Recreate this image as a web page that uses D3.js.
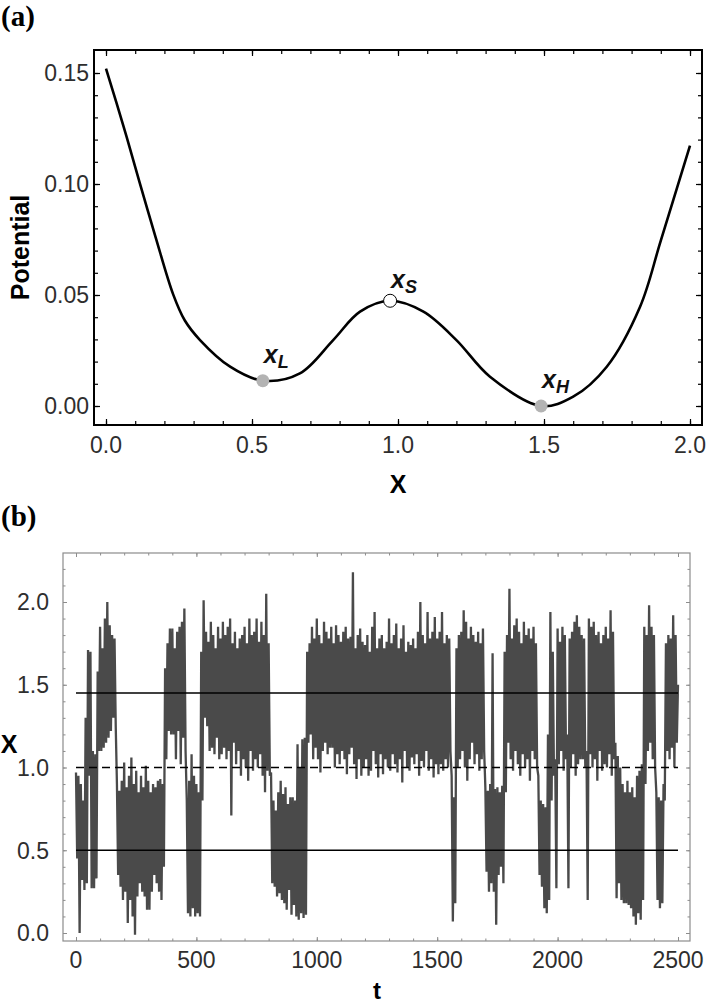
<!DOCTYPE html>
<html>
<head>
<meta charset="utf-8">
<script src="https://cdn.jsdelivr.net/npm/d3@7"></script>
<style>
  body { margin: 0; background: #fff; }
  svg { display: block; }
  text { font-family: "Liberation Sans", Arial, sans-serif; }
</style>
</head>
<body>
<div id="chart"></div>
<script>
// ---------- data ----------

// panel (a): potential curve, sampled by eye
var potX = [0, 0.06, 0.116, 0.17, 0.23, 0.27, 0.322, 0.425, 0.537, 0.664, 0.778, 0.87, 0.973, 1.087, 1.20, 1.315, 1.49, 1.60, 1.715, 1.829, 1.90, 2.0];
var potV = [0.152, 0.126, 0.1003, 0.076, 0.0503, 0.0385, 0.0297, 0.0177, 0.0114, 0.0147, 0.0297, 0.0425, 0.0474, 0.0425, 0.0297, 0.0132, 0.0, 0.0042, 0.0177, 0.0447, 0.0745, 0.1173];

// fixed points of the potential
var pointName = ["L", "S", "H"];
var pointKind = ["stable", "saddle", "stable"];
var pointX = [0.537, 0.973, 1.49];
var pointV = [0.0114, 0.0474, 0.0];

var potXTicks = [0, 0.5, 1.0, 1.5, 2.0];
var potVTicks = [0, 0.05, 0.10, 0.15];

// panel (b): trajectory, max and min of X inside each 10-unit time window
var tStep = 10;
var xHigh = [
  0.97, 0.95, 0.90, 0.80, 1.30, 1.71, 1.70, 1.10, 1.08, 1.58,
  1.85, 1.72, 1.90, 2.00, 1.86, 1.80, 1.78, 0.90, 0.86, 0.92,
  1.03, 0.88, 0.95, 1.06, 0.90, 0.98, 0.85, 0.95, 0.88, 1.01,
  0.92, 0.85, 0.90, 0.88, 0.92, 0.93, 0.90, 1.60, 1.75, 1.84,
  1.84, 1.72, 1.82, 1.85, 1.88, 1.96, 0.80, 0.92, 1.08, 0.95,
  0.90, 0.85, 1.70, 2.01, 1.82, 1.76, 1.88, 1.80, 1.72, 1.85,
  1.78, 1.88, 1.80, 1.85, 1.90, 1.75, 1.82, 1.72, 1.78, 1.80,
  1.85, 1.75, 1.90, 1.80, 1.82, 1.90, 1.76, 1.88, 1.80, 2.05,
  1.75, 0.97, 0.80, 0.74, 0.85, 0.92, 0.84, 0.88, 0.78, 0.82,
  0.82, 0.80, 1.14, 1.00, 1.17, 1.18, 1.70, 1.75, 1.85, 1.78,
  1.90, 1.80, 1.75, 1.88, 1.82, 1.78, 1.85, 1.75, 1.86, 1.80,
  1.76, 1.82, 1.85, 1.78, 1.79, 2.18, 1.72, 1.80, 1.84, 1.76,
  1.74, 1.80, 1.70, 1.85, 1.94, 1.72, 1.78, 1.80, 1.72, 1.76,
  1.90, 1.75, 1.80, 1.87, 1.72, 1.78, 1.86, 1.70, 1.76, 1.74,
  1.78, 1.72, 1.82, 2.00, 1.80, 1.75, 1.94, 1.78, 1.82, 1.91,
  1.78, 1.82, 1.94, 1.75, 1.80, 1.78, 0.95, 0.82, 1.72, 1.80,
  1.82, 1.95, 1.88, 1.78, 1.85, 1.80, 1.76, 1.82, 1.75, 1.84,
  0.88, 0.86, 0.90, 1.69, 0.87, 0.88, 0.85, 0.89, 1.70, 1.80,
  2.08, 1.78, 1.86, 1.90, 1.82, 1.75, 1.88, 1.80, 1.84, 1.78,
  1.85, 1.75, 0.95, 0.80, 0.78, 0.76, 1.20, 1.94, 1.70, 1.05,
  1.84, 1.76, 1.85, 1.80, 1.20, 1.78, 1.82, 1.88, 1.92, 1.85,
  1.80, 1.78, 1.10, 1.90, 1.85, 1.88, 1.80, 1.82, 1.75, 1.80,
  1.85, 1.78, 1.95, 1.82, 1.15, 1.07, 1.00, 0.90, 0.85, 0.92,
  0.85, 0.88, 0.82, 0.95, 0.98, 1.02, 1.85, 1.80, 1.98, 1.85,
  1.80, 0.85, 0.82, 0.80, 0.90, 1.75, 1.80, 1.78, 1.92, 1.80
];
var xLow = [
  0.45, 0.00, 0.32, 0.26, 0.30, 0.95, 0.27, 0.27, 0.33, 1.10,
  1.10, 1.12, 1.15, 1.18, 1.22, 1.30, 1.25, 0.35, 0.28, 0.20,
  0.25, 0.06, 0.20, 0.10, -0.01, 0.22, 0.30, 0.25, 0.22, 0.14,
  0.14, 0.25, 0.35, 0.30, 0.25, 0.20, 0.40, 1.05, 1.22, 1.20,
  1.20, 1.05, 1.22, 1.02, 1.18, 1.10, 0.12, 0.10, 0.15, 0.10,
  0.12, 0.10, 0.80, 1.30, 1.25, 1.10, 1.12, 1.08, 1.18, 1.05,
  1.08, 1.12, 1.05, 1.10, 0.71, 1.15, 1.02, 1.10, 0.95, 1.05,
  1.00, 0.92, 1.10, 0.98, 1.05, 1.00, 1.08, 0.95, 0.85, 0.98,
  0.95, 0.30, 0.28, 0.22, 0.24, 0.20, 0.18, 0.14, 0.26, 0.11,
  0.17, 0.10, 0.08, 0.12, 0.09, 0.11, 1.15, 1.20, 1.05, 1.12,
  1.05, 0.97, 1.10, 1.15, 1.08, 1.12, 1.12, 1.00, 1.08, 1.02,
  1.10, 1.05, 0.96, 1.08, 1.12, 1.02, 0.93, 1.05, 0.95, 1.00,
  1.05, 0.95, 0.98, 1.10, 1.02, 0.94, 1.08, 0.96, 1.05, 1.00,
  0.98, 1.08, 1.02, 0.97, 1.05, 0.91, 1.10, 1.00, 0.98, 1.06,
  1.02, 1.08, 0.95, 1.04, 1.00, 1.10, 0.98, 1.05, 0.94, 1.02,
  0.96, 1.02, 0.98, 1.05, 1.00, 1.10, 0.07, 0.18, 1.00, 1.05,
  1.10, 1.00, 0.92, 1.05, 1.15, 1.02, 1.08, 0.98, 1.05, 1.10,
  0.37, 0.25, 0.30, 0.25, 0.05, 0.35, 0.40, 0.30, 0.85, 1.15,
  1.05, 0.98, 1.10, 1.02, 0.95, 1.08, 1.00, 1.05, 0.92, 1.10,
  1.05, 1.00, 0.35, 0.28, 0.15, 0.12, 0.20, 0.80, 0.95, 0.27,
  1.02, 1.10, 0.98, 1.05, 0.27, 1.00, 1.08, 0.95, 1.02, 1.05,
  1.05, 1.00, 0.20, 1.08, 1.00, 1.05, 0.92, 1.10, 0.98, 1.02,
  1.00, 1.08, 0.95, 1.05, 0.21, 0.30, 0.20, 0.18, 0.18, 0.17,
  0.15, 0.10, 0.05, 0.12, 0.08, 0.20, 0.90, 1.10, 1.15, 1.05,
  1.00, 0.20, 0.15, 0.18, 0.80, 1.10, 1.05, 1.12, 1.00, 1.15
];

// reference levels drawn across panel (b)
var levelValue = [1.45, 1.0, 0.5];
var levelDashed = [false, true, false];

var tTicks = [0, 500, 1000, 1500, 2000, 2500];
var xTicks = [0, 0.5, 1.0, 1.5, 2.0];

// ---------- drawing ----------
var width = 709,
    height = 1006;

var svg = d3.select("#chart")
  .append("svg")
  .attr("width", width)
  .attr("height", height);

// helper: ticks on all four sides pointing inward, labels only bottom/left
function frameTicks(g, x, y, box, opt) {
  var sides = [
    {axis: d3.axisBottom(x), tr: "translate(0," + box.bottom + ")", vals: opt.xMajor, minor: opt.xMinor},
    {axis: d3.axisTop(x), tr: "translate(0," + box.top + ")", vals: opt.xMajor, minor: opt.xMinor},
    {axis: d3.axisLeft(y), tr: "translate(" + box.left + ",0)", vals: opt.yMajor, minor: opt.yMinor},
    {axis: d3.axisRight(y), tr: "translate(" + box.right + ",0)", vals: opt.yMajor, minor: opt.yMinor}
  ];
  sides.forEach(function(s) {
    var gm = g.append("g")
      .attr("transform", s.tr)
      .call(s.axis.tickValues(s.minor).tickSize(-opt.minorLen).tickFormat(""));
    gm.select(".domain").remove();
    gm.selectAll("line").attr("stroke", opt.tickColor).attr("stroke-width", opt.tickWidth);
  });
  sides.forEach(function(s) {
    var ax = s.axis.tickValues(s.vals).tickSize(-opt.majorLen).tickFormat("");
    var gM = g.append("g").attr("transform", s.tr).call(ax);
    gM.select(".domain").remove();
    gM.selectAll("line").attr("stroke", opt.tickColor).attr("stroke-width", opt.tickWidth);
  });

  // tick labels on bottom and left
  g.append("g").selectAll("text")
    .data(opt.xMajor)
    .enter().append("text")
    .attr("x", function(d) { return x(d); })
    .attr("y", box.bottom + opt.xLabelGap)
    .attr("text-anchor", "middle")
    .attr("font-size", opt.fontSize)
    .attr("fill", "#2e2e2e")
    .text(opt.xFormat);

  g.append("g").selectAll("text")
    .data(opt.yMajor)
    .enter().append("text")
    .attr("x", box.left - opt.yLabelGap)
    .attr("y", function(d) { return y(d); })
    .attr("dy", "0.36em")
    .attr("text-anchor", "end")
    .attr("font-size", opt.fontSize)
    .attr("fill", "#2e2e2e")
    .text(opt.yFormat);

  g.append("rect")
    .attr("x", box.left)
    .attr("y", box.top)
    .attr("width", box.right - box.left)
    .attr("height", box.bottom - box.top)
    .attr("fill", "none")
    .attr("stroke", opt.frameColor)
    .attr("stroke-width", opt.frameWidth);
}

// ---------- panel (a) ----------
var boxA = {left: 94, right: 702, top: 50, bottom: 425};
var xA = d3.scaleLinear().domain([0, 2]).range([106, 690]);
var yA = d3.scaleLinear().domain([0, 0.15]).range([406, 73]);

var gA = svg.append("g");

frameTicks(gA, xA, yA, boxA, {
  xMajor: potXTicks,
  xMinor: d3.range(0, 2.001, 0.1),
  yMajor: potVTicks,
  yMinor: d3.range(0, 0.1501, 0.01),
  majorLen: 6, minorLen: 4,
  tickColor: "#000", tickWidth: 1.2,
  frameColor: "#000", frameWidth: 2,
  fontSize: 23,
  xLabelGap: 28, yLabelGap: 5,
  xFormat: d3.format(".1f"),
  yFormat: d3.format(".2f")
});

var potData = potX.map(function(d, i) { return [d, potV[i]]; });

gA.append("path")
  .datum(potData)
  .attr("fill", "none")
  .attr("stroke", "#000")
  .attr("stroke-width", 2.6)
  .attr("d", d3.line()
    .x(function(d) { return xA(d[0]); })
    .y(function(d) { return yA(d[1]); })
    .curve(d3.curveCatmullRom.alpha(0.5)));

// fixed points
var pts = pointX.map(function(d, i) {
  return {x: d, v: pointV[i], name: pointName[i], kind: pointKind[i]};
});

gA.selectAll(".fixed")
  .data(pts)
  .enter().append("circle")
  .attr("class", "fixed")
  .attr("cx", function(d) { return xA(d.x); })
  .attr("cy", function(d) { return yA(d.v); })
  .attr("r", 6.5)
  .attr("fill", function(d) { return d.kind == "saddle" ? "#fff" : "#b3b3b3"; })
  .attr("stroke", function(d) { return d.kind == "saddle" ? "#000" : "none"; })
  .attr("stroke-width", 1);

var lab = gA.selectAll(".fixed-label")
  .data(pts)
  .enter().append("text")
  .attr("class", "fixed-label")
  .attr("x", function(d) { return xA(d.x) + 1; })
  .attr("y", function(d) { return yA(d.v) - (d.kind == "saddle" ? 13 : 18); })
  .attr("font-size", 25)
  .attr("font-weight", "bold")
  .attr("font-style", "italic")
  .attr("fill", "#111");
lab.append("tspan").text("x");
lab.append("tspan")
  .attr("font-size", 18)
  .attr("dy", 5)
  .text(function(d) { return d.name; });

// axis titles
gA.append("text")
  .attr("transform", "translate(29," + ((boxA.top + boxA.bottom) / 2 + 10) + ") rotate(-90)")
  .attr("text-anchor", "middle")
  .attr("font-size", 25)
  .attr("font-weight", "bold")
  .text("Potential");

gA.append("text")
  .attr("x", xA(1))
  .attr("y", 493)
  .attr("text-anchor", "middle")
  .attr("font-size", 25)
  .attr("font-weight", "bold")
  .text("X");

svg.append("text")
  .attr("x", 1)
  .attr("y", 26)
  .attr("font-size", 29)
  .attr("font-weight", "bold")
  .style("font-family", "'Liberation Serif', serif")
  .text("(a)");

// ---------- panel (b) ----------
var boxB = {left: 63, right: 690, top: 553, bottom: 941};
var xB = d3.scaleLinear().domain([0, 2500]).range([76, 678]);
var yB = d3.scaleLinear().domain([0, 2]).range([933, 602]);

var gB = svg.append("g");

// trajectory: zig-zag between window max and min
var traj = [];
xHigh.forEach(function(h, i) {
  traj.push([i * tStep, h]);
  traj.push([i * tStep + tStep / 2, xLow[i]]);
});
traj.push([xHigh.length * tStep, 1.5]);

gB.append("path")
  .datum(traj)
  .attr("fill", "none")
  .attr("stroke", "#4a4a4a")
  .attr("stroke-width", 2.3)
  .attr("stroke-linejoin", "bevel")
  .attr("d", d3.line()
    .x(function(d) { return xB(d[0]); })
    .y(function(d) { return yB(d[1]); }));

// reference levels
gB.selectAll(".level")
  .data(levelValue)
  .enter().append("line")
  .attr("class", "level")
  .attr("x1", xB(0))
  .attr("x2", xB(2500))
  .attr("y1", function(d) { return yB(d); })
  .attr("y2", function(d) { return yB(d); })
  .attr("stroke", "#000")
  .attr("stroke-width", 1.6)
  .attr("stroke-dasharray", function(d, i) { return levelDashed[i] ? "8,5" : null; });

frameTicks(gB, xB, yB, boxB, {
  xMajor: tTicks,
  xMinor: d3.range(0, 2501, 100),
  yMajor: xTicks,
  yMinor: d3.range(0, 2.201, 0.1),
  majorLen: 4, minorLen: 2.5,
  tickColor: "#8c8c8c", tickWidth: 1,
  frameColor: "#8c8c8c", frameWidth: 1.2,
  fontSize: 23,
  xLabelGap: 27, yLabelGap: 14,
  xFormat: d3.format("d"),
  yFormat: d3.format(".1f")
});

gB.append("text")
  .attr("x", 9)
  .attr("y", 753)
  .attr("text-anchor", "middle")
  .attr("font-size", 25)
  .attr("font-weight", "bold")
  .text("X");

gB.append("text")
  .attr("x", xB(1250))
  .attr("y", 999)
  .attr("text-anchor", "middle")
  .attr("font-size", 24)
  .attr("font-weight", "bold")
  .text("t");

svg.append("text")
  .attr("x", 1)
  .attr("y", 526)
  .attr("font-size", 29)
  .attr("font-weight", "bold")
  .style("font-family", "'Liberation Serif', serif")
  .text("(b)");
</script>
</body>
</html>
